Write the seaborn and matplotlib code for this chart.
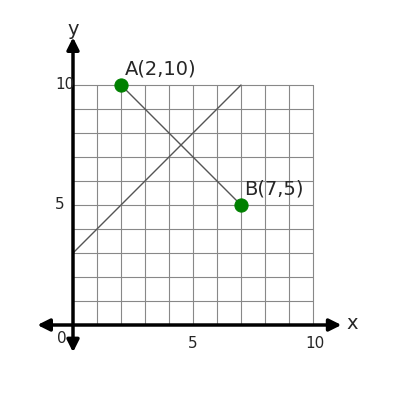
import matplotlib
matplotlib.use("Agg")
import matplotlib.pyplot as plt
import seaborn as sns
import pandas as pd

# data
point_names = ["A(2,10)", "B(7,5)"]
point_x = [2, 7]
point_y = [10, 5]
line2_x = [0, 7]
line2_y = [3, 10]
grid_max = 10

sns.set_style("white")
fig = plt.figure(figsize=(4, 4), dpi=100)
ax = fig.add_axes([0, 0, 1, 1])
ax.set_xlim(-73 / 24, 327 / 24)
ax.set_ylim(-75 / 24, 325 / 24)
ax.axis("off")

# grid
for v in range(grid_max + 1):
    ax.plot([v, v], [0, grid_max], color="#888888", lw=0.8, zorder=1)
    ax.plot([0, grid_max], [v, v], color="#888888", lw=0.8, zorder=1)

# axes with arrows
arrow = dict(arrowstyle="<|-|>", color="black", lw=2.5, mutation_scale=18)
ax.annotate("", xy=(11.3, 0), xytext=(-1.6, 0), arrowprops=arrow, zorder=3)
ax.annotate("", xy=(0, 12.1), xytext=(0, -1.25), arrowprops=arrow, zorder=3)
ax.text(11.4, 0.05, "x", fontsize=14, va="center", ha="left")
ax.text(0, 12.3, "y", fontsize=14, va="center", ha="center")

# ticks
ax.text(-0.45, -0.55, "0", fontsize=11, ha="center", va="center")
ax.text(5, -0.75, "5", fontsize=11, ha="center", va="center")
ax.text(10.1, -0.75, "10", fontsize=11, ha="center", va="center")
ax.text(-0.55, 5, "5", fontsize=11, ha="center", va="center")
ax.text(-0.35, 10, "10", fontsize=11, ha="center", va="center")

# lines
sns.lineplot(x=point_x, y=point_y, ax=ax, color="#555555", lw=1, zorder=2)
sns.lineplot(x=line2_x, y=line2_y, ax=ax, color="#555555", lw=1, zorder=2)

df = pd.DataFrame({"x": point_x, "y": point_y, "name": point_names})
sns.scatterplot(data=df, x="x", y="y", ax=ax, color="green", s=90,
                edgecolor="green", zorder=4, legend=False)
for _, r in df.iterrows():
    ax.text(r["x"] + 0.15, r["y"] + 0.25, r["name"], fontsize=14,
            ha="left", va="bottom", zorder=5)

ax.axis("off")
fig.savefig("out.png", dpi=100)
